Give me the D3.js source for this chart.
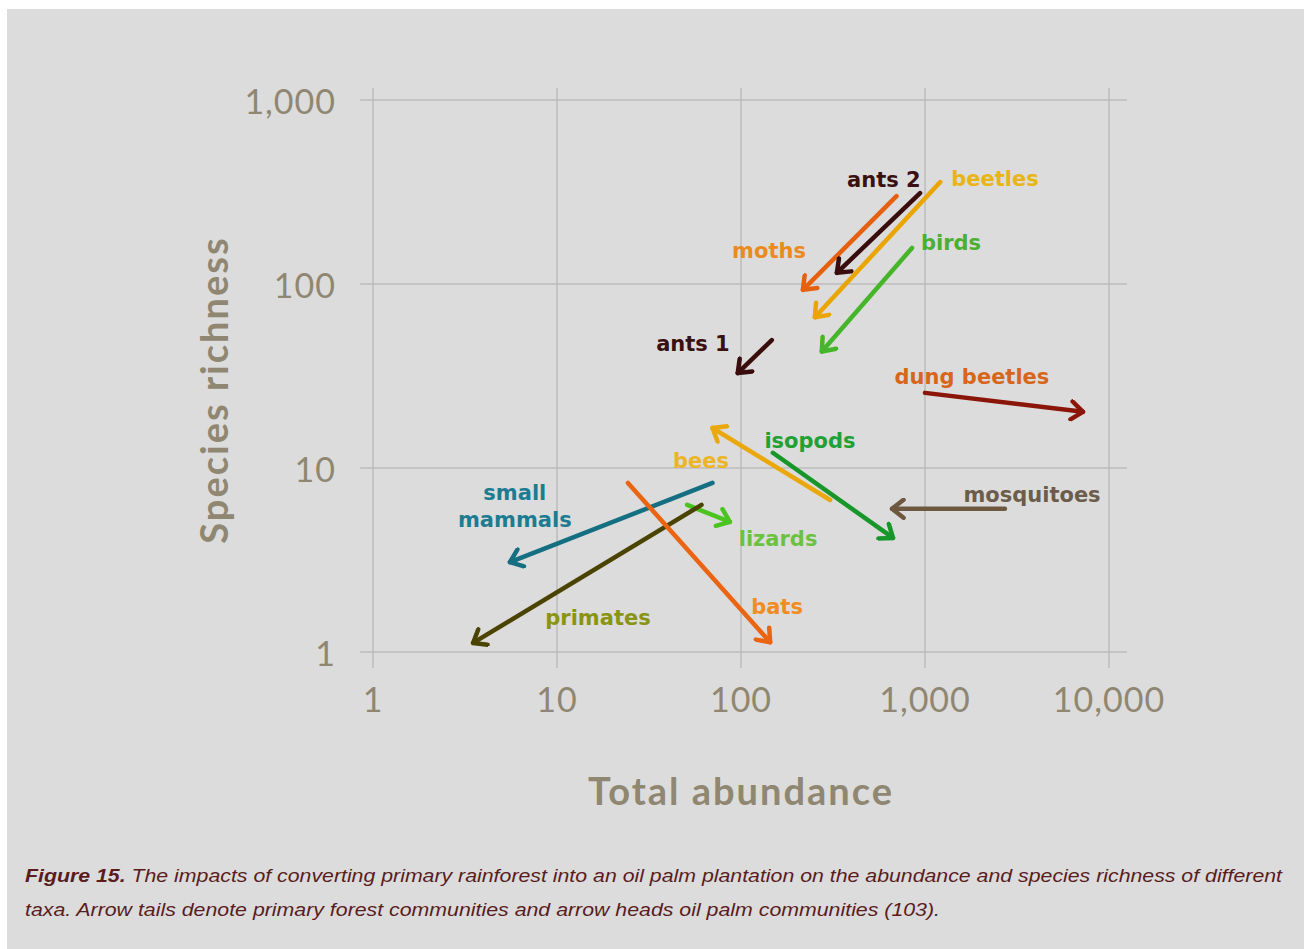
<!DOCTYPE html>
<html>
<head>
<meta charset="utf-8">
<script src="https://cdn.jsdelivr.net/npm/d3@7"></script>
<style>
  html, body { margin: 0; padding: 0; background: #ffffff; }
  svg { display: block; }
</style>
</head>
<body>
<svg id="chart" width="1304" height="949"></svg>
<script>
// Taxa and their community values: arrow tail = primary forest, arrow head = oil palm
const taxa = ["moths", "ants 2", "beetles", "birds", "ants 1", "dung beetles", "mosquitoes",
              "isopods", "bees", "small mammals", "lizards", "primates", "bats"];
const forestAbundance = [700, 940, 1210, 850, 147, 1000, 2720, 149, 305, 70, 51, 61, 24.3];
const forestRichness  = [300, 312, 358, 157, 49.6, 25.6, 6.0, 12.1, 6.7, 8.3, 6.3, 6.3, 8.3];
const palmAbundance   = [217, 332, 252, 275, 96, 7220, 662, 670, 70, 5.55, 87, 3.5, 144];
const palmRichness    = [93, 115, 66, 43, 32.8, 20.2, 6.0, 4.17, 16.5, 3.08, 5.1, 1.12, 1.13];

const xTickValues = [1, 10, 100, 1000, 10000];
const xTickLabels = ["1", "10", "100", "1,000", "10,000"];
const yTickValues = [1, 10, 100, 1000];
const yTickLabels = ["1", "10", "100", "1,000"];

// Styling for each taxon: arrow colour, label colour, label anchor (in data units)
const arrowColor = ["#e5600f", "#3a0d0d", "#eaa500", "#45b52a", "#3a0d0d", "#8a160a", "#6e5840",
                    "#17962a", "#eaa80c", "#156f82", "#4cc420", "#4a4400", "#ea6412"];
const labelColor = ["#e98b22", "#3a1010", "#e9b512", "#4bb032", "#3a1010", "#d8661a", "#6c5c4c",
                    "#22a034", "#ebb526", "#1b7c92", "#6cc240", "#8a9414", "#f08c22"];
const labelLines = [["moths"], ["ants 2"], ["beetles"], ["birds"], ["ants 1"], ["dung beetles"],
                    ["mosquitoes"], ["isopods"], ["bees"], ["small", "mammals"], ["lizards"],
                    ["primates"], ["bats"]];
const labelAbundance = [142, 598, 2400, 1384, 54.8, 1800, 3817, 237, 60.6, 5.9, 159, 16.7, 157];
const labelRichness  = [151, 367, 372, 167, 47.2, 31.2, 7.13, 14.0, 10.9, 7.31, 4.11, 1.53, 1.76];

const svg = d3.select("#chart");
const W = 1304, H = 949;

// Grey panel with a thin white margin at the top and left
svg.append("rect").attr("x", 7).attr("y", 9).attr("width", W - 7).attr("height", H - 9)
  .attr("fill", "#dcdcdc");

const x = d3.scaleLog().domain([1, 10000]).range([373, 1109]);
const y = d3.scaleLog().domain([1, 1000]).range([652, 100]);

const gridColor = "#bcbcbc";
const axisTextColor = "#8f8772";
const font = "Lato, 'Open Sans', sans-serif";
const labelFont = "'DejaVu Sans', Lato, sans-serif";

// Vertical grid lines (with tick stubs below the bottom line)
svg.append("g").selectAll("line").data(xTickValues).join("line")
  .attr("x1", d => x(d)).attr("x2", d => x(d))
  .attr("y1", y(1000) - 12).attr("y2", y(1) + 16)
  .attr("stroke", gridColor).attr("stroke-width", 1.5);

// Horizontal grid lines (with tick stubs left of the first line)
svg.append("g").selectAll("line").data(yTickValues).join("line")
  .attr("x1", x(1) - 13).attr("x2", x(10000) + 18)
  .attr("y1", d => y(d)).attr("y2", d => y(d))
  .attr("stroke", gridColor).attr("stroke-width", 1.5);

// Tick labels
svg.append("g").selectAll("text").data(xTickValues).join("text")
  .attr("x", d => x(d)).attr("y", 698)
  .attr("text-anchor", "middle").attr("dominant-baseline", "central")
  .attr("font-family", font).attr("font-size", 34).attr("letter-spacing", 1)
  .attr("fill", axisTextColor)
  .text((d, i) => xTickLabels[i]);

svg.append("g").selectAll("text").data(yTickValues).join("text")
  .attr("x", 336).attr("y", d => y(d))
  .attr("text-anchor", "end").attr("dominant-baseline", "central")
  .attr("font-family", font).attr("font-size", 34).attr("letter-spacing", 1)
  .attr("fill", axisTextColor)
  .text((d, i) => yTickLabels[i]);

// Axis titles
svg.append("text").attr("x", 741).attr("y", 790)
  .attr("text-anchor", "middle").attr("dominant-baseline", "central")
  .attr("font-family", font).attr("font-weight", "bold").attr("font-size", 38)
  .attr("letter-spacing", 2)
  .attr("fill", axisTextColor).text("Total abundance");

svg.append("text").attr("transform", "translate(213,390) rotate(-90)")
  .attr("text-anchor", "middle").attr("dominant-baseline", "central")
  .attr("font-family", font).attr("font-weight", "bold").attr("font-size", 38)
  .attr("letter-spacing", 2)
  .attr("fill", axisTextColor).text("Species richness");

// Chevron arrowheads, one marker per colour
const defs = svg.append("defs");
arrowColor.forEach((c, i) => {
  defs.append("marker")
    .attr("id", "head" + i)
    .attr("viewBox", "-15 -11 19 22")
    .attr("refX", 0).attr("refY", 0)
    .attr("markerWidth", 19).attr("markerHeight", 22)
    .attr("markerUnits", "userSpaceOnUse")
    .attr("orient", "auto")
    .append("path")
    .attr("d", "M-11.5,-9 L0,0 L-11.5,9")
    .attr("fill", "none").attr("stroke", c).attr("stroke-width", 4.5)
    .attr("stroke-linecap", "round").attr("stroke-linejoin", "round");
});

// Arrows from primary forest to oil palm communities
svg.append("g").selectAll("line").data(taxa).join("line")
  .attr("x1", (d, i) => x(forestAbundance[i]))
  .attr("y1", (d, i) => y(forestRichness[i]))
  .attr("x2", (d, i) => x(palmAbundance[i]))
  .attr("y2", (d, i) => y(palmRichness[i]))
  .attr("stroke", (d, i) => arrowColor[i])
  .attr("stroke-width", 4.5)
  .attr("stroke-linecap", "round")
  .attr("marker-end", (d, i) => `url(#head${i})`);

// Taxon labels
const labels = svg.append("g").selectAll("text").data(taxa).join("text")
  .attr("x", (d, i) => x(labelAbundance[i]))
  .attr("y", (d, i) => y(labelRichness[i]))
  .attr("text-anchor", "middle").attr("dominant-baseline", "central")
  .attr("font-family", labelFont).attr("font-weight", "bold").attr("font-size", 21)
  .attr("fill", (d, i) => labelColor[i]);
labels.each(function (d, i) {
  const lines = labelLines[i];
  d3.select(this).selectAll("tspan").data(lines).join("tspan")
    .attr("x", x(labelAbundance[i]))
    .attr("dy", (l, j) => j === 0 ? 0 : 27)
    .text(l => l);
});

// Figure caption
const capColor = "#5a1c1c";
const cap1 = svg.append("text").attr("x", 25).attr("y", 882)
  .attr("font-family", "'Liberation Sans', Arial, sans-serif").attr("font-style", "italic")
  .attr("font-size", 19).attr("fill", capColor)
  .attr("textLength", 1257).attr("lengthAdjust", "spacingAndGlyphs");
cap1.append("tspan").attr("font-weight", "bold").text("Figure 15.");
cap1.append("tspan").text(" The impacts of converting primary rainforest into an oil palm plantation on the abundance and species richness of different");

svg.append("text").attr("x", 25).attr("y", 916)
  .attr("font-family", "'Liberation Sans', Arial, sans-serif").attr("font-style", "italic")
  .attr("font-size", 19).attr("fill", capColor)
  .attr("textLength", 915).attr("lengthAdjust", "spacingAndGlyphs")
  .text("taxa. Arrow tails denote primary forest communities and arrow heads oil palm communities (103).");
</script>
</body>
</html>
